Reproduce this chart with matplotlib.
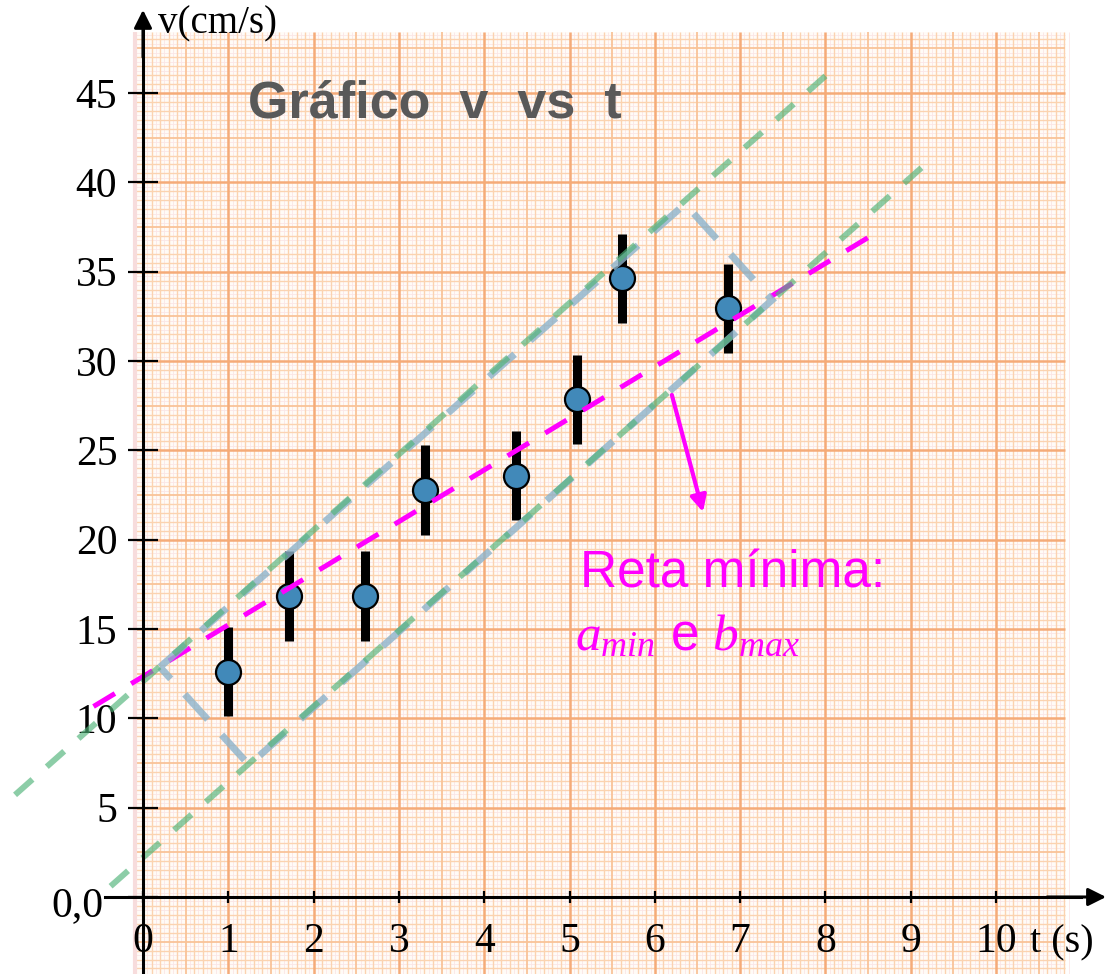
import matplotlib
matplotlib.use("Agg")
import matplotlib.pyplot as plt
import matplotlib.transforms as mtransforms
import numpy as np
from matplotlib.collections import LineCollection
from matplotlib.patches import Polygon, Rectangle

# ---------------- data ----------------
t_data = [1.00, 1.715, 2.603, 3.306, 4.373, 5.085, 5.612, 6.855]
v_data = [12.61, 16.85, 16.85, 22.78, 23.58, 27.86, 34.63, 32.95]
v_err = [2.5, 2.5, 2.5, 2.5, 2.5, 2.5, 2.5, 2.5]

# straight lines: intercept, slope, t-start, t-end
green_upper = [12.07, 4.235, -1.50, 8.05]
green_lower = [2.21, 4.23, -0.38, 9.17]
magenta_line = [12.34, 2.89, -0.58, 8.62]

# dashed rectangle enclosing the points (corners t, v)
rect_t = [0.199, 6.354, 7.374, 1.243]
rect_v = [12.87, 38.79, 33.41, 7.39]

# arrow pointing to the minimum line
arrow_from = [6.20, 28.10]
arrow_to = [6.565, 21.55]

xticks = [0, 1, 2, 3, 4, 5, 6, 7, 8, 9, 10]
xtick_labels = ["0", "1", "2", "3", "4", "5", "6", "7", "8", "9", "10"]
yticks = [0, 5, 10, 15, 20, 25, 30, 35, 40, 45]
ytick_labels = ["0,0", "5", "10", "15", "20", "25", "30", "35", "40", "45"]

# ---------------- figure ----------------
plt.rcParams["font.family"] = ["Liberation Serif", "DejaVu Serif"]
plt.rcParams["mathtext.fontset"] = "custom"
plt.rcParams["mathtext.it"] = "Liberation Serif:italic"
plt.rcParams["mathtext.rm"] = "Liberation Serif"

W, H = 1108, 974
fig = plt.figure(figsize=(W / 100, H / 100), dpi=100)
fig.patch.set_facecolor("white")
ax = fig.add_axes([0, 0, 1, 1])
ax.set_facecolor("none")

x0_px, ppx = 143.0, 85.3          # t=0 pixel, pixels per second
y0_px, ppy = 897.0, 17.867        # v=0 pixel (from top), pixels per cm/s
ax.set_xlim(-x0_px / ppx, (W - x0_px) / ppx)
ax.set_ylim(-(H - y0_px) / ppy, y0_px / ppy)

# ---------------- graph paper ----------------
p_left, p_right = -0.094, 10.81
p_bot, p_top = ax.get_ylim()[0], 48.41
ax.add_patch(Rectangle((p_left, p_bot), p_right - p_left, p_top - p_bot,
                       facecolor="#fffbf7", edgecolor="none", zorder=0))
segs = {"minor": [], "mid": [], "major": []}
for k in range(0, 109):
    tt = k * 0.1
    kind = "major" if k % 10 == 0 else ("mid" if k % 5 == 0 else "minor")
    segs[kind].append([(tt, p_bot), (tt, p_top)])
for j in range(-8, 97):
    vv = j * 0.5
    kind = "major" if j % 10 == 0 else ("mid" if j % 5 == 0 else "minor")
    segs[kind].append([(p_left, vv), (p_right, vv)])
pink = []
for k in range(0, 109):
    tt = k * 0.1 + 0.05
    pink.append([(tt, p_bot), (tt, p_top)])
for j in range(-8, 97):
    vv = j * 0.5 + 0.25
    pink.append([(p_left, vv), (p_right, vv)])
ax.add_collection(LineCollection(pink, colors="#fbe6e6", linewidths=0.6, zorder=0.5))
ax.add_collection(LineCollection(segs["minor"], colors="#fbd3b0", linewidths=1.0, zorder=0.6))
ax.add_collection(LineCollection(segs["mid"], colors="#f9c398", linewidths=1.3, zorder=0.7))
ax.add_collection(LineCollection(segs["major"], colors="#f5ab78", linewidths=1.8, zorder=0.8))
ax.add_collection(LineCollection([[(p_left, p_bot), (p_left, p_top)]],
                                 colors="#f7dcdc", linewidths=3, zorder=0.8))

# ---------------- axes ----------------
for s in ["top", "right"]:
    ax.spines[s].set_visible(False)
ax.spines["left"].set_position(("data", 0))
ax.spines["bottom"].set_position(("data", 0))
ax.spines["left"].set_linewidth(2.2)
ax.spines["bottom"].set_linewidth(2.2)
ax.spines["left"].set_bounds(ax.get_ylim()[0], 49.0)
ax.spines["bottom"].set_bounds(-0.445, 11.0)
ax.spines["left"].set_zorder(5)
ax.spines["bottom"].set_zorder(5)

ax.annotate("", xy=(0, 49.65), xytext=(0, 47.0),
            arrowprops=dict(arrowstyle="-|>", lw=2.2, color="black",
                            mutation_scale=27, shrinkA=0, shrinkB=0), zorder=6)
ax.annotate("", xy=(11.29, 0), xytext=(10.6, 0),
            arrowprops=dict(arrowstyle="-|>", lw=2.2, color="black",
                            mutation_scale=27, shrinkA=0, shrinkB=0), zorder=6)

ax.set_xticks(xticks)
ax.set_xticklabels(xtick_labels)
ax.set_yticks(yticks)
ax.set_yticklabels(ytick_labels)
ax.tick_params(axis="x", direction="inout", length=9, width=1.6, pad=14,
               labelsize=30, colors="black")
ax.tick_params(axis="y", direction="inout", length=21, width=1.6, pad=8,
               labelsize=30, colors="black")
# shift the "0,0" label left so it sits just before the x-axis line
zero_lab = ax.get_yticklabels()[0]
zero_lab.set_transform(zero_lab.get_transform() +
                       mtransforms.ScaledTranslation(-14 / 100, -4 / 100,
                                                     fig.dpi_scale_trans))

# ---------------- data marks ----------------
ax.errorbar(t_data, v_data, yerr=v_err, fmt="o", ms=18, mfc="#4189b9",
            mec="black", mew=1.6, ecolor="black", elinewidth=6.5, capsize=0,
            zorder=3)

def line_pts(p):
    tt = np.array([p[2], p[3]])
    return tt, p[0] + p[1] * tt

tm, vm = line_pts(magenta_line)
ax.plot(tm, vm, color="#ff00ff", lw=3.6, ls=(0, (5.0, 3.8)), zorder=4,
        solid_capstyle="butt", dash_capstyle="butt")

rect = Polygon(np.column_stack([rect_t, rect_v]), closed=True, fill=False,
               edgecolor="#8cb3cb", alpha=0.8, lw=5.0, ls=(0, (4.9, 3.0)),
               zorder=4.5)
ax.add_patch(rect)

for p in (green_upper, green_lower):
    tg, vg = line_pts(p)
    ax.plot(tg, vg, color="#4fb378", alpha=0.65, lw=4.3, ls=(0, (3.9, 3.2)),
            zorder=5, dash_capstyle="butt")

ax.annotate("", xy=arrow_to, xytext=arrow_from,
            arrowprops=dict(arrowstyle="-|>", lw=3.0, color="#ff00ff",
                            mutation_scale=24, shrinkA=0, shrinkB=0), zorder=6)

# ---------------- texts ----------------
def fx(px):
    return px / W

def fy(py):
    return (H - py) / H

fig.text(fx(248), fy(117), "Gráfico  v  vs  t", family="Liberation Sans",
         fontweight="bold", fontsize=37.5, color="#595959", va="baseline")
fig.text(fx(158), fy(33), "v(cm/s)", fontsize=28, va="baseline", color="black")
fig.text(fx(1030), fy(952), "t (s)", fontsize=29, va="baseline", color="black")
fig.text(fx(580), fy(587), "Reta mínima:", family="Liberation Sans",
         fontsize=37, color="#ff00ff", va="baseline")
fig.text(fx(575), fy(650), r"$a_{min}$ e $b_{max}$", family="Liberation Sans",
         fontsize=37, color="#ff00ff", va="baseline")

fig.savefig("out.png", dpi=100)
